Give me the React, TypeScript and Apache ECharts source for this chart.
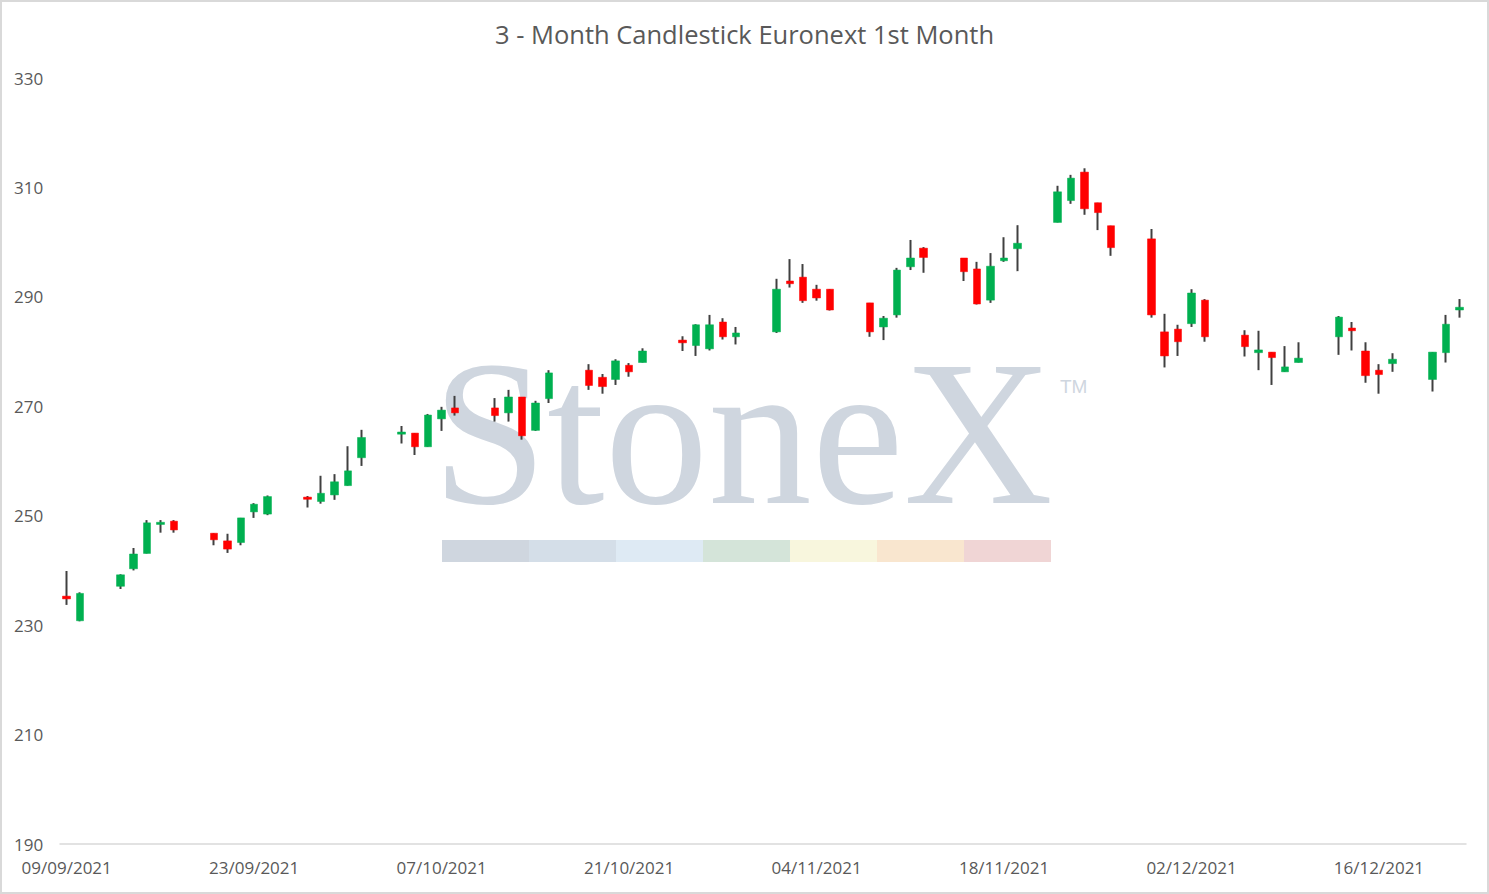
import React, { useEffect, useRef } from "react";
import * as echarts from "echarts";

const TITLE = "3 - Month Candlestick Euronext 1st Month";

const tradeDates = [
  "09/09/2021", "10/09/2021", "13/09/2021", "14/09/2021", "15/09/2021", "16/09/2021", "17/09/2021",
  "20/09/2021", "21/09/2021", "22/09/2021", "23/09/2021", "24/09/2021",
  "27/09/2021", "28/09/2021", "29/09/2021", "30/09/2021", "01/10/2021",
  "04/10/2021", "05/10/2021", "06/10/2021", "07/10/2021", "08/10/2021",
  "11/10/2021", "12/10/2021", "13/10/2021", "14/10/2021", "15/10/2021",
  "18/10/2021", "19/10/2021", "20/10/2021", "21/10/2021", "22/10/2021",
  "25/10/2021", "26/10/2021", "27/10/2021", "28/10/2021", "29/10/2021",
  "01/11/2021", "02/11/2021", "03/11/2021", "04/11/2021", "05/11/2021",
  "08/11/2021", "09/11/2021", "10/11/2021", "11/11/2021", "12/11/2021",
  "15/11/2021", "16/11/2021", "17/11/2021", "18/11/2021", "19/11/2021",
  "22/11/2021", "23/11/2021", "24/11/2021", "25/11/2021", "26/11/2021",
  "29/11/2021", "30/11/2021", "01/12/2021", "02/12/2021", "03/12/2021",
  "06/12/2021", "07/12/2021", "08/12/2021", "09/12/2021", "10/12/2021",
  "13/12/2021", "14/12/2021", "15/12/2021", "16/12/2021", "17/12/2021",
  "20/12/2021", "21/12/2021", "22/12/2021",
];

const openP = [
  235.3, 230.8, 237.1, 240.3, 243.1, 248.4, 249.0,
  246.8, 245.4, 245.1, 250.7, 250.3,
  253.4, 252.6, 253.8, 255.5, 260.6,
  264.9, 265.1, 262.6, 267.7, 269.7,
  269.7, 268.8, 271.7, 265.6, 271.4,
  276.6, 275.3, 274.9, 277.5, 278.0,
  282.1, 281.1, 280.5, 285.4, 282.7,
  283.6, 292.9, 293.6, 291.4, 291.4,
  288.9, 284.5, 286.7, 295.5, 298.9,
  297.1, 295.1, 289.4, 296.6, 298.8,
  303.6, 307.6, 312.8, 307.2, 303.0,
  300.6, 283.6, 284.1, 285.1, 289.4,
  283.0, 279.8, 279.9, 276.3, 278.0,
  282.7, 284.3, 280.1, 276.6, 277.8,
  274.9, 279.8, 287.6,
];

const highP = [
  239.9, 236.0, 239.3, 244.1, 249.2, 249.2, 249.2,
  246.8, 246.7, 249.6, 252.3, 253.7,
  253.6, 257.3, 257.6, 262.7, 265.7,
  266.4, 265.1, 268.6, 269.9, 271.9,
  271.5, 273.0, 271.7, 271.0, 276.6,
  277.7, 275.9, 278.6, 277.9, 280.6,
  282.8, 285.0, 286.7, 286.1, 284.5,
  293.3, 296.9, 296.0, 292.2, 291.4,
  288.9, 286.5, 295.3, 300.4, 299.1,
  297.1, 296.4, 298.0, 300.9, 303.1,
  310.3, 312.3, 313.5, 307.2, 303.0,
  302.4, 286.9, 284.9, 291.4, 289.6,
  283.9, 283.8, 279.9, 281.0, 281.7,
  286.5, 285.4, 281.7, 277.7, 279.7,
  279.9, 286.7, 289.6,
];

const lowP = [
  233.7, 230.7, 236.6, 240.0, 243.1, 246.9, 246.9,
  244.6, 243.2, 244.6, 249.6, 250.1,
  251.5, 252.2, 252.9, 255.5, 259.1,
  263.2, 261.1, 262.6, 265.5, 268.3,
  267.2, 267.2, 263.9, 265.5, 270.6,
  273.0, 272.3, 273.9, 275.4, 278.0,
  280.1, 279.2, 280.2, 282.2, 281.3,
  283.4, 291.7, 288.9, 289.3, 287.5,
  282.7, 282.1, 286.2, 294.9, 294.4,
  292.9, 288.6, 288.9, 296.4, 294.7,
  303.6, 307.0, 305.0, 302.2, 297.5,
  286.2, 277.1, 279.2, 284.5, 281.8,
  279.1, 276.6, 273.9, 276.3, 278.0,
  279.4, 280.2, 274.3, 272.3, 276.3,
  272.7, 278.0, 286.2,
];

const closeP = [
  234.8, 235.8, 239.2, 243.0, 248.7, 248.8, 247.4,
  245.6, 243.9, 249.6, 252.1, 253.5,
  253.0, 254.1, 256.2, 258.2, 264.3,
  265.3, 262.6, 268.4, 269.3, 268.8,
  268.3, 271.7, 264.6, 270.6, 276.1,
  273.8, 273.6, 278.3, 276.3, 280.1,
  281.6, 284.9, 284.9, 282.7, 283.4,
  291.4, 292.4, 289.3, 289.8, 287.6,
  283.6, 286.1, 294.9, 297.1, 297.2,
  294.6, 288.7, 295.6, 297.1, 299.8,
  309.2, 311.7, 306.1, 305.4, 299.0,
  286.7, 279.2, 281.8, 290.7, 282.7,
  280.9, 280.3, 278.9, 277.2, 278.8,
  286.3, 283.8, 275.6, 275.8, 278.6,
  279.9, 285.0, 288.1,
];

const Y_MIN = 190;
const Y_MAX = 330;
const Y_STEP = 20;

const watermarkColors = ["#cfd6df", "#d4dee8", "#deeaf4", "#d4e4d9", "#f8f6dd", "#f9e6cf", "#f0d5d5"];

const FONT = "'Open Sans', 'Liberation Sans', sans-serif";
const TEXT_COLOR = "#595959";

function parseDate(s: string): number {
  const [d, m, y] = s.split("/").map(Number);
  return Date.UTC(y, m - 1, d);
}
function fmt(t: number): string {
  const dt = new Date(t);
  const dd = String(dt.getUTCDate()).padStart(2, "0");
  const mm = String(dt.getUTCMonth() + 1).padStart(2, "0");
  return `${dd}/${mm}/${dt.getUTCFullYear()}`;
}

function buildCalendar() {
  const start = parseDate(tradeDates[0]);
  const end = parseDate(tradeDates[tradeDates.length - 1]);
  const days: string[] = [];
  for (let t = start; t <= end; t += 86400000) days.push(fmt(t));
  const idx: Record<string, number> = {};
  tradeDates.forEach((d, i) => (idx[d] = i));
  const full: any[] = [];
  const bodies: any[] = [];
  days.forEach((d) => {
    const i = idx[d];
    if (i === undefined) {
      full.push(["-", "-", "-", "-"]);
      bodies.push(["-", "-", "-", "-"]);
    } else {
      full.push([openP[i], closeP[i], lowP[i], highP[i]]);
      bodies.push([openP[i], closeP[i], Math.min(openP[i], closeP[i]), Math.max(openP[i], closeP[i])]);
    }
  });
  return { days, full, bodies };
}

export default function App() {
  const ref = useRef<HTMLDivElement>(null);

  useEffect(() => {
    document.body.style.margin = "0";
    if (!ref.current) return;
    const chart = echarts.init(ref.current, undefined, { renderer: "svg" });
    const { days, full, bodies } = buildCalendar();

    const barX0 = 442;
    const barW = 87;
    const graphicEls: any[] = [
      {
        type: "rect",
        z: 0,
        shape: { x: 1, y: 1, width: 1487, height: 892 },
        style: { fill: "none", stroke: "#d9d9d9", lineWidth: 2 },
        silent: true,
      },
      {
        type: "text",
        z: 0,
        x: 432,
        y: 433,
        silent: true,
        style: {
          text: "StoneX",
          font: "207px 'Liberation Serif', 'DejaVu Serif', serif",
          fill: "#cfd6df",
          align: "left",
          verticalAlign: "middle",
        },
      },
      {
        type: "text",
        z: 0,
        x: 1060,
        y: 386,
        silent: true,
        style: {
          text: "TM",
          font: "19px 'Liberation Sans', sans-serif",
          fill: "#cfd6df",
          align: "left",
          verticalAlign: "middle",
        },
      },
      ...watermarkColors.map((c, i) => ({
        type: "rect",
        z: 0,
        silent: true,
        shape: { x: barX0 + i * barW, y: 540, width: barW, height: 22 },
        style: { fill: c },
      })),
    ];

    chart.setOption({
      animation: false,
      backgroundColor: "#ffffff",
      title: {
        text: TITLE,
        left: "center",
        top: 21,
        padding: 0,
        textStyle: { fontFamily: FONT, fontSize: 25.5, fontWeight: "normal", color: TEXT_COLOR },
      },
      graphic: { elements: graphicEls },
      grid: { left: 60, right: 23, top: 78, bottom: 50, containLabel: false },
      xAxis: {
        type: "category",
        data: days,
        boundaryGap: true,
        axisLine: { show: true, lineStyle: { color: "#d9d9d9", width: 1.5 } },
        axisTick: { show: false },
        splitLine: { show: false },
        axisLabel: {
          interval: 13,
          margin: 15,
          color: TEXT_COLOR,
          fontFamily: FONT,
          fontSize: 17,
        },
      },
      yAxis: {
        type: "value",
        min: Y_MIN,
        max: Y_MAX,
        interval: Y_STEP,
        axisLine: { show: false },
        axisTick: { show: false },
        splitLine: { show: false },
        axisLabel: {
          align: "left",
          margin: 46,
          color: TEXT_COLOR,
          fontFamily: FONT,
          fontSize: 17,
        },
      },
      series: [
        {
          name: "range",
          type: "candlestick",
          data: full,
          barWidth: 1,
          silent: true,
          itemStyle: {
            color: "#404040",
            color0: "#404040",
            borderColor: "#404040",
            borderColor0: "#404040",
            borderWidth: 2,
          },
        },
        {
          name: "body",
          type: "candlestick",
          data: bodies,
          barWidth: 8,
          silent: true,
          itemStyle: {
            color: "#00b050",
            color0: "#ff0000",
            borderColor: "#00b050",
            borderColor0: "#ff0000",
            borderWidth: 0.5,
          },
        },
      ],
    });

    return () => chart.dispose();
  }, []);

  return <div ref={ref} style={{ position: "fixed", left: 0, top: 0, width: 1489, height: 894 }} />;
}
